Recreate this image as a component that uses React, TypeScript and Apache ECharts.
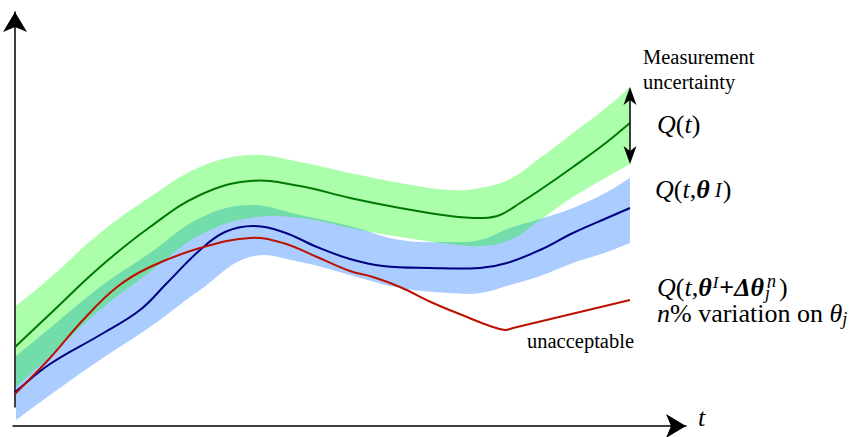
import React, { useEffect, useRef } from 'react';
import * as echarts from 'echarts';

// time samples shared by the two uncertainty bands
const bandT = [1, 35, 85, 135, 185, 235, 285, 335, 385, 435, 465, 495, 525, 558, 592, 615];
// Q(t) with measurement uncertainty (green band)
const greenUpper = [131, 159, 204, 240, 270, 282, 275, 264, 254, 247, 249, 258, 279, 304, 330, 350];
const greenLower = [50, 81, 127, 165, 202, 219, 219, 209, 200, 193, 191, 197, 217, 240, 260, 273];
// Q(t, theta^I) band (blue band)
const blueUpper = [81, 109, 150, 184, 219, 232, 222, 211, 197, 195, 197, 209, 218, 229, 245, 259];
const blueLower = [17, 42, 77, 110, 147, 180, 175, 162, 149, 144, 144, 152, 161, 174, 185, 194];

// Q(t)
const qT = [0, 35, 85, 135, 185, 235, 285, 335, 385, 435, 468, 485, 505, 525, 558, 592, 615];
const qValues = [90, 123, 170, 210, 242, 256, 251, 239, 229, 221, 219, 222, 234, 247, 270, 295, 314];
// Q(t, theta^I)
const qIT = [0, 35, 85, 125, 152, 185, 210, 238, 268, 302, 335, 368, 415, 465, 492, 525, 558, 592, 615];
const qIValues = [45, 73, 102, 127, 154, 187, 205, 211, 205, 190, 178, 171, 169, 169, 174, 187, 204, 219, 229];
// Q(t, theta^I + dTheta_j^n)
const qVarT = [0, 35, 68, 102, 135, 185, 235, 268, 302, 335, 358, 385, 418, 452, 475, 490, 498, 615];
const qVarValues = [43, 79, 117, 150, 170, 189, 199, 194, 180, 166, 160, 150, 134, 120, 111, 107, 109, 137];

const SERIF = '"Liberation Serif", "Times New Roman", Times, serif';

function st(size: number, fontStyle = 'normal', fontWeight = 'normal', extra: any = {}) {
  return {
    fontFamily: SERIF,
    fontSize: size,
    fontStyle,
    fontWeight,
    fill: '#000',
    lineHeight: 30,
    verticalAlign: 'middle',
    ...extra,
  };
}

function mathRich(supSize: number, supPadTop: number, supPadLeft: number) {
  return {
    i: st(26, 'italic'),
    r: st(26),
    b: st(26, 'italic', 'bold'),
    rb: st(26, 'normal', 'bold'),
    sup: st(supSize, 'italic', 'normal', {
      verticalAlign: 'top',
      lineHeight: supSize,
      padding: [supPadTop, 1, 0, supPadLeft],
    }),
    sub: st(18, 'italic', 'normal', { verticalAlign: 'bottom', lineHeight: 18, padding: [0, 0, 0, 0] }),
    subw: st(18, 'italic', 'normal', {
      verticalAlign: 'bottom',
      lineHeight: 18,
      padding: [0, 0, 0, 1],
      width: 14,
    }),
  };
}

// smooth cubic path through pixel points (tangents scaled by neighbouring segment lengths)
function smoothPath(pts: number[][], start: 'M' | 'L', s = 0.4): string {
  const n = pts.length;
  const before: number[][] = [];
  const after: number[][] = [];
  for (let i = 0; i < n; i++) {
    const p = pts[i];
    const prev = pts[Math.max(i - 1, 0)];
    const next = pts[Math.min(i + 1, n - 1)];
    const vx = next[0] - prev[0];
    const vy = next[1] - prev[1];
    const d0 = Math.hypot(p[0] - prev[0], p[1] - prev[1]);
    const d1 = Math.hypot(next[0] - p[0], next[1] - p[1]);
    const sum = d0 + d1 || 1;
    before.push([p[0] - (vx * s * d0) / sum, p[1] - (vy * s * d0) / sum]);
    after.push([p[0] + (vx * s * d1) / sum, p[1] + (vy * s * d1) / sum]);
  }
  let d = `${start}${pts[0][0]},${pts[0][1]}`;
  for (let i = 0; i < n - 1; i++) {
    const a = after[i];
    const b = before[i + 1];
    const q = pts[i + 1];
    d += ` C${a[0]},${a[1]} ${b[0]},${b[1]} ${q[0]},${q[1]}`;
  }
  return d;
}

function band(name: string, lower: number[], upper: number[], color: string) {
  return {
    type: 'custom',
    name,
    coordinateSystem: 'cartesian2d',
    xAxisIndex: 0,
    yAxisIndex: 0,
    silent: true,
    clip: false,
    z: 2,
    data: bandT.map((t, i) => [t, lower[i], upper[i]]),
    encode: { x: 0, y: [1, 2] },
    renderItem: (params: any, api: any) => {
      if (params.dataIndex !== 0) return null;
      const up = bandT.map((t, i) => api.coord([t, upper[i]]));
      const lo = bandT.map((t, i) => api.coord([t, lower[i]])).reverse();
      const d = smoothPath(up, 'M') + ' ' + smoothPath(lo, 'L') + ' Z';
      return {
        type: 'path',
        shape: { pathData: d },
        style: { fill: color, stroke: null },
      };
    },
  };
}

function curve(name: string, ts: number[], vs: number[], color: string) {
  return {
    type: 'custom',
    name,
    coordinateSystem: 'cartesian2d',
    xAxisIndex: 0,
    yAxisIndex: 0,
    silent: true,
    clip: false,
    z: 5,
    data: ts.map((t, i) => [t, vs[i]]),
    encode: { x: 0, y: 1 },
    renderItem: (params: any, api: any) => {
      if (params.dataIndex !== 0) return null;
      const pts = ts.map((t, i) => api.coord([t, vs[i]]));
      return {
        type: 'path',
        shape: { pathData: smoothPath(pts, 'M') },
        style: { fill: 'none', stroke: color, lineWidth: 2, lineJoin: 'round', lineCap: 'butt' },
      };
    },
  };
}

// double-headed arrow spanning the measurement uncertainty at the last time sample
const uncertaintyArrow = {
  type: 'custom',
  name: 'Measurement uncertainty',
  coordinateSystem: 'cartesian2d',
  xAxisIndex: 0,
  yAxisIndex: 0,
  silent: true,
  clip: false,
  z: 6,
  data: [[bandT[bandT.length - 1], greenLower[greenLower.length - 1], greenUpper[greenUpper.length - 1]]],
  encode: { x: 0, y: [1, 2] },
  renderItem: (params: any, api: any) => {
    const top = api.coord([api.value(0), api.value(2)]);
    const bot = api.coord([api.value(0), api.value(1)]);
    const x = top[0];
    const hw = 6.5;
    const len = 18;
    const notch = 13;
    return {
      type: 'group',
      children: [
        {
          type: 'line',
          shape: { x1: x, y1: top[1] + notch, x2: x, y2: bot[1] - notch },
          style: { stroke: '#000', lineWidth: 1.5 },
        },
        {
          type: 'polygon',
          shape: {
            points: [
              [x, top[1]],
              [x + hw, top[1] + len],
              [x, top[1] + notch],
              [x - hw, top[1] + len],
            ],
          },
          style: { fill: '#000' },
        },
        {
          type: 'polygon',
          shape: {
            points: [
              [x, bot[1]],
              [x + hw, bot[1] - len],
              [x, bot[1] - notch],
              [x - hw, bot[1] - len],
            ],
          },
          style: { fill: '#000' },
        },
      ],
    };
  },
};

const option: any = {
  animation: false,
  backgroundColor: '#ffffff',
  grid: [
    { left: 15, right: 159, top: 12, bottom: 30 },
    { left: 13, right: 169, top: 425, height: 1 },
  ],
  xAxis: [
    { type: 'value', gridIndex: 0, min: 0, max: 681, show: false },
    {
      type: 'value',
      gridIndex: 1,
      min: 0,
      max: 1,
      position: 'bottom',
      name: 't',
      nameLocation: 'end',
      nameGap: 12,
      nameTextStyle: {
        fontFamily: SERIF,
        fontStyle: 'italic',
        fontSize: 26,
        color: '#000',
        lineHeight: 17,
        verticalAlign: 'bottom',
      },
      axisLine: {
        show: true,
        symbol: ['none', 'arrow'],
        symbolSize: [18, 20],
        lineStyle: { color: '#000', width: 1.5 },
      },
      axisTick: { show: false },
      axisLabel: { show: false },
      splitLine: { show: false },
    },
  ],
  yAxis: [
    {
      type: 'value',
      gridIndex: 0,
      min: 30,
      max: 425,
      axisLine: {
        show: true,
        onZero: false,
        symbol: ['none', 'arrow'],
        symbolSize: [18, 20],
        lineStyle: { color: '#000', width: 1.5 },
      },
      axisTick: { show: false },
      axisLabel: { show: false },
      splitLine: { show: false },
    },
    { type: 'value', gridIndex: 1, show: false },
  ],
  series: [
    band('Q(t,θI) band', blueLower, blueUpper, '#aaccff'),
    band('Q(t) band', greenLower, greenUpper, 'rgba(0,255,0,0.33)'),
    curve('Q(t,θI)', qIT, qIValues, '#000080'),
    curve('Q(t,θI+Δθjn)', qVarT, qVarValues, '#bb1100'),
    curve('Q(t)', qT, qValues, '#007700'),
    uncertaintyArrow,
  ],
  graphic: {
    elements: [
      {
        type: 'text',
        x: 643,
        y: 44,
        z: 100,
        silent: true,
        style: {
          text: 'Measurement\nuncertainty',
          fontFamily: SERIF,
          fontSize: 20.5,
          lineHeight: 25,
          fill: '#000',
          align: 'left',
          verticalAlign: 'top',
        },
      },
      {
        type: 'text',
        x: 657,
        y: 109,
        z: 100,
        silent: true,
        style: {
          text: '{i|Q}{r|(}{i|t}{r|)}',
          rich: mathRich(18, 2, 2),
          align: 'left',
          verticalAlign: 'top',
        },
      },
      {
        type: 'text',
        x: 655,
        y: 174,
        z: 100,
        silent: true,
        style: {
          text: '{i|Q}{r|(}{i|t}{r|,}{b|θ}{sup|I}{r|)}',
          rich: mathRich(21, 5, 5),
          align: 'left',
          verticalAlign: 'top',
        },
      },
      {
        type: 'text',
        x: 657,
        y: 272,
        z: 100,
        silent: true,
        style: {
          text: '{i|Q}{r|(}{i|t}{r|,}{b|θ}{sup|I}{rb|+}{b|Δθ}{subw|j}{r|)}',
          rich: mathRich(17, 2, 1),
          align: 'left',
          verticalAlign: 'top',
        },
      },
      {
        type: 'text',
        x: 767,
        y: 272,
        z: 100,
        silent: true,
        style: {
          text: 'n',
          fontFamily: SERIF,
          fontSize: 18,
          fontStyle: 'italic',
          lineHeight: 18,
          fill: '#000',
          align: 'left',
          verticalAlign: 'top',
        },
      },
      {
        type: 'text',
        x: 657,
        y: 298,
        z: 100,
        silent: true,
        style: {
          text: '{i|n}{r|% variation on }{i|θ}{sub|j}',
          rich: mathRich(18, 2, 2),
          align: 'left',
          verticalAlign: 'top',
        },
      },
      {
        type: 'text',
        x: 527,
        y: 331,
        z: 100,
        silent: true,
        style: {
          text: 'unacceptable',
          fontFamily: SERIF,
          fontSize: 20.5,
          lineHeight: 20,
          fill: '#000',
          align: 'left',
          verticalAlign: 'top',
        },
      },
    ],
  },
};

export default function App() {
  const ref = useRef<HTMLDivElement>(null);
  useEffect(() => {
    const chart = echarts.init(ref.current as HTMLDivElement, null, { renderer: 'svg' });
    chart.setOption(option);
    return () => {
      chart.dispose();
    };
  }, []);
  return (
    <div
      ref={ref}
      style={{ position: 'absolute', left: 0, top: 0, width: 855, height: 437, background: '#fff' }}
    />
  );
}
